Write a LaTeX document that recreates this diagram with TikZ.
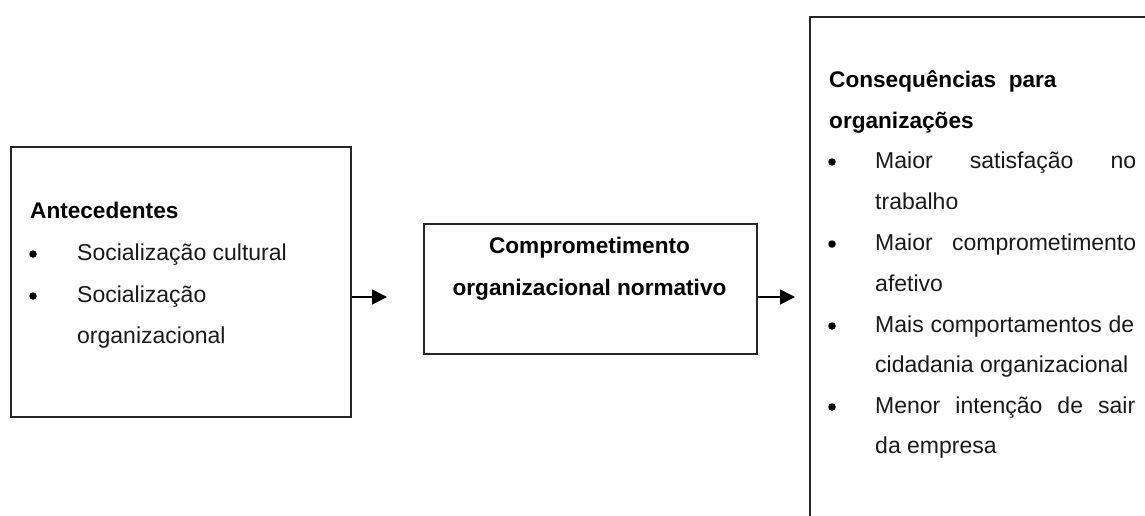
\documentclass[tikz,border=0pt]{standalone}
\usepackage{fontspec}
\setmainfont{Liberation Sans}
\usetikzlibrary{arrows.meta}
\begin{document}
\begin{tikzpicture}[x=1pt,y=-1pt,
  box/.style={draw=black!85, line width=1.7pt, inner sep=0pt, anchor=north west},
  txt/.style={anchor=base west, inner sep=0pt, text=black!90, font=\fontsize{23}{23}\selectfont},
  head/.style={anchor=base west, inner sep=0pt, font=\fontsize{22.6}{23}\selectfont\bfseries},
  ctitle/.style={anchor=base, inner sep=0pt, font=\fontsize{22.6}{23}\selectfont\bfseries},
  dot/.style={circle, fill=black, inner sep=0pt, minimum size=7.5pt},
  link/.style={draw=black, line width=1.7pt, -{Triangle[length=15pt,width=15pt]}}]
\useasboundingbox (0,0) rectangle (1145,515);
\clip (0,0) rectangle (1145,515);

% boxes
\node[box, minimum width=340pt, minimum height=270pt] (ante) at (10,146) {};
\node[box, minimum width=333pt, minimum height=130pt] (comp) at (423,223) {};
\node[box, minimum width=360pt, minimum height=530pt] (cons) at (809,16) {};

% arrows
\coordinate (a1) at (387,297);
\coordinate (a2) at (795,297);
\draw[link] (ante.east |- a1) -- (a1);
\draw[link] (comp.east |- a2) -- (a2);

% antecedents
\node[head] (anteh) at (30,218) {Antecedentes};
\node[dot] (ad1) at (33,254) {};
\node[dot] (ad2) at (33,296) {};
\node[txt] (at1) at (77,260) {Socialização cultural};
\node[txt] (at2) at (77,302) {Socialização};
\node[txt] (at3) at (77,343) {organizacional};

% central construct
\node[ctitle] (ct1) at (589.5,253) {Comprometimento};
\node[ctitle] (ct2) at (589.5,295) {organizacional normativo};

% consequences
\node[head] (consh1) at (829,87) {Consequências\ \ para};
\node[head] (consh2) at (829,128) {organizações};
\node[dot] (cd1) at (832,162) {};
\node[dot] (cd2) at (832,244) {};
\node[dot] (cd3) at (832,326) {};
\node[dot] (cd4) at (832,407) {};
\node[txt] (ct11) at (875,168) {\makebox[261pt][s]{Maior satisfação no}};
\node[txt] (ct12) at (875,209) {trabalho};
\node[txt] (ct21) at (875,250) {\makebox[261pt][s]{Maior comprometimento}};
\node[txt] (ct22) at (875,291) {afetivo};
\node[txt] (ct31) at (875,332) {\makebox[259pt][s]{Mais comportamentos de}};
\node[txt] (ct32) at (875,372) {cidadania organizacional};
\node[txt] (ct41) at (875,413) {\makebox[260pt][s]{Menor intenção de sair}};
\node[txt] (ct42) at (875,453) {da empresa};
\end{tikzpicture}
\end{document}
